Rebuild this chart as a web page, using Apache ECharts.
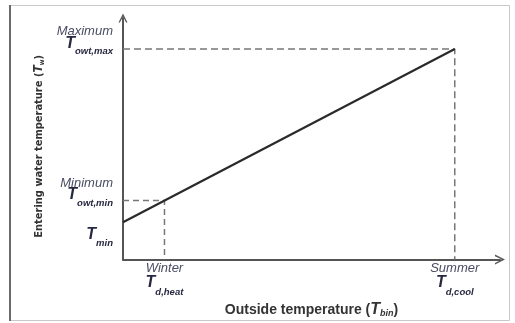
<!DOCTYPE html>
<html>
<head>
<meta charset="utf-8">
<script src="https://cdn.jsdelivr.net/npm/echarts@6/dist/echarts.min.js"></script>
<style>
  html, body { margin: 0; padding: 0; background: #fff; }
  #main { width: 515px; height: 323px; }
</style>
</head>
<body>
<div id="main"></div>
<script>
// outside temperature values (x) and entering water temperature (y), 0-100 schematic scale
let xWinter = 11;
let xSummer = 88;
let yMin = 15.5;
let yOwtMin = 24.5;
let yOwtMax = 87.2;

let linePoints = [[0, yMin], [xSummer, yOwtMax]];
let winterGuide = [[0, yOwtMin], [xWinter, yOwtMin], [xWinter, 0]];
let summerGuide = [[0, yOwtMax], [xSummer, yOwtMax], [xSummer, 0]];

let xTicks = [xWinter, xSummer];
let yTicks = [yOwtMin, yOwtMax];
let yMinTicks = [yMin];

let xTickLabels = {};
xTickLabels[xWinter] = '{a|Winter}\n{t|T}{s|d,heat}';
xTickLabels[xSummer] = '{a|Summer}\n{t|T}{s|d,cool}';

let yTickLabels = {};
yTickLabels[yMin] = '{gap1|}\n{t|T}{s|min}';
yTickLabels[yOwtMin] = '{a|Minimum}\n{t|T}{s|owt,min}\n{gap2|}';
yTickLabels[yOwtMax] = '{a|Maximum}\n{t|T}{s|owt,max}\n{gap2|}';

let wordColor = '#4a4c63';
let tColor = '#262840';
let font = 'Liberation Sans';
let narrow = "'Liberation Sans Narrow', 'DejaVu Sans Condensed'";

let richY = {
    a: { fontSize: 13, fontStyle: 'italic', color: wordColor, lineHeight: 8, fontFamily: font },
    t: { fontSize: 16, fontStyle: 'italic', fontWeight: 'bold', color: tColor, lineHeight: 10, verticalAlign: 'top', fontFamily: font },
    s: { fontSize: 9.5, fontStyle: 'italic', fontWeight: 'bold', color: tColor, lineHeight: 8, verticalAlign: 'top', padding: [11, 0, 0, 0], fontFamily: font },
    gap1: { height: 19.5, lineHeight: 19.5 },
    gap2: { height: 25, lineHeight: 25 }
};

let richX = {
    a: { fontSize: 13, fontStyle: 'italic', color: wordColor, lineHeight: 12, fontFamily: font },
    t: { fontSize: 16, fontStyle: 'italic', fontWeight: 'bold', color: tColor, lineHeight: 12, verticalAlign: 'top', fontFamily: font },
    s: { fontSize: 9.5, fontStyle: 'italic', fontWeight: 'bold', color: tColor, lineHeight: 8, verticalAlign: 'top', padding: [12.5, 0, 0, 0], fontFamily: font }
};

let arrow = 'path://M0,10 L5,0 L10,10 L8.4,10 L5,3.2 L1.6,10 Z';

let chart = echarts.init(document.getElementById('main'));

let labelOnlyAxis = (values) => ({
    type: 'value',
    min: 0,
    max: 100,
    position: 'left',
    axisLine: { show: false },
    axisTick: { show: false },
    splitLine: { show: false },
    axisLabel: {
        customValues: values,
        margin: 10,
        align: 'right',
        hideOverlap: false,
        formatter: v => yTickLabels[v] || '',
        rich: richY
    }
});

let mainY = labelOnlyAxis(yTicks);
mainY.name = '{n|Entering water temperature (}{t|T}{s|w}{n|)}';
mainY.nameLocation = 'middle';
mainY.nameGap = 68;
mainY.nameTextStyle = {
    padding: [0, 15, 0, 0],
    rich: {
        n: { fontSize: 11, fontWeight: 'bold', color: '#333', fontFamily: narrow },
        t: { fontSize: 12, fontStyle: 'italic', fontWeight: 'bold', color: '#333', fontFamily: narrow },
        s: { fontSize: 7, fontWeight: 'bold', color: '#333', padding: [6, 0, 0, 0], fontFamily: narrow }
    }
};
mainY.axisLine = { show: true, lineStyle: { color: '#555', width: 2 }, symbol: ['none', arrow], symbolSize: [11, 9] };

let option = {
    backgroundColor: '#fff',
    animation: false,
    graphic: [
        { type: 'rect', shape: { x: 9.5, y: 5.5, width: 500, height: 315 }, style: { fill: 'none', stroke: '#c8c8c8', lineWidth: 1 } },
        { type: 'line', shape: { x1: 10, y1: 5, x2: 10, y2: 321 }, style: { stroke: '#6a6a6a', lineWidth: 2 } }
    ],
    grid: { left: 123, right: 15, top: 18, bottom: 60 },
    xAxis: {
        type: 'value',
        min: 0,
        max: 100,
        name: '{n|Outside temperature (}{t|T}{s|bin}{n|)}',
        nameLocation: 'middle',
        nameGap: 33,
        nameTextStyle: {
            rich: {
                n: { fontSize: 14, fontWeight: 'bold', color: '#333', fontFamily: font },
                t: { fontSize: 16, fontStyle: 'italic', fontWeight: 'bold', color: '#333', fontFamily: font },
                s: { fontSize: 9, fontStyle: 'italic', fontWeight: 'bold', color: '#333', padding: [7, 0, 0, 0], fontFamily: font }
            }
        },
        axisLine: { lineStyle: { color: '#555', width: 2 }, symbol: ['none', arrow], symbolSize: [11, 10] },
        axisTick: { show: false },
        splitLine: { show: false },
        axisLabel: {
            customValues: xTicks,
            margin: 3,
            align: 'center',
            hideOverlap: false,
            formatter: v => xTickLabels[v] || '',
            rich: richX
        }
    },
    yAxis: [mainY, labelOnlyAxis(yMinTicks)],
    series: [
        {
            type: 'line',
            data: winterGuide,
            symbol: 'none',
            lineStyle: { color: '#777', width: 1.5, type: [6, 4] },
            z: 1
        },
        {
            type: 'line',
            data: summerGuide,
            symbol: 'none',
            lineStyle: { color: '#777', width: 1.5, type: [7, 4] },
            z: 1
        },
        {
            type: 'line',
            data: linePoints,
            symbol: 'none',
            lineStyle: { color: '#2a2a2a', width: 2.2 },
            z: 2
        }
    ]
};

chart.setOption(option);
</script>
</body>
</html>
